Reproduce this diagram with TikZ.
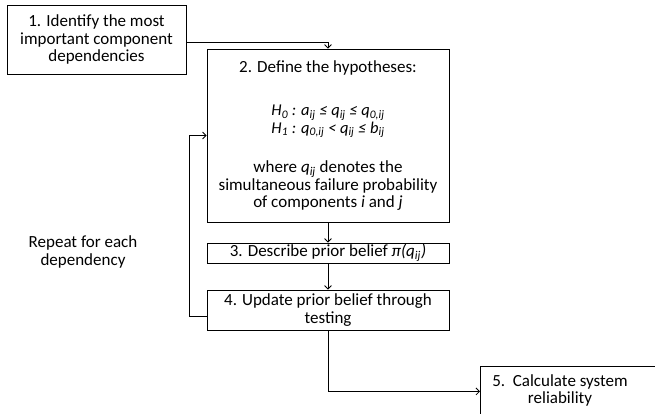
\documentclass[tikz,border=0pt]{standalone}
\usepackage{fontspec}
\setmainfont{Carlito}
\usetikzlibrary{arrows.meta}
\newcommand{\mathline}{\fontsize{16.5}{17}\selectfont\itshape}
\begin{document}
\begin{tikzpicture}[x=1pt,y=-1pt,
 txt/.style={align=center, font=\fontsize{17}{17.5}\selectfont, inner sep=0pt},
 box/.style={txt, draw, line width=0.8pt, rectangle},
 conn/.style={draw, line width=0.8pt, -{Straight Barb[length=3.5pt,width=7pt]}}]
\clip (0,0) rectangle (655,413);
\node[box, minimum width=179pt, minimum height=69pt] (b1) at (96.5,39.5)
  {1. Identify the most\\important component\\dependencies};
\node[box, minimum width=242pt, minimum height=173pt] (b2) at (328,135.5)
  {2. Define the hypotheses:\\[26pt]
   {\mathline H\textsubscript{0} : a\textsubscript{ij} ≤ q\textsubscript{ij} ≤ q\textsubscript{0,ij}}\\
   {\mathline H\textsubscript{1} : q\textsubscript{0,ij} < q\textsubscript{ij} ≤ b\textsubscript{ij}}\\[22pt]
   where \textit{q\textsubscript{ij}} denotes the\\
   simultaneous failure probability\\
   of components \textit{i} and \textit{j}};
\node[box, minimum width=242pt, minimum height=20pt] (b3) at (328,253)
  {3. Describe prior belief \textit{π(q\textsubscript{ij})}};
\node[box, minimum width=242pt, minimum height=40pt] (b4) at (328,310)
  {4. Update prior belief through\\testing};
\node[box, minimum width=190pt, minimum height=64pt, anchor=north west] (b5) at (480,366) {};
\node[txt, anchor=north] (b5t) at (560,374) {5.\ \ Calculate system\\reliability};
\node[txt] (rep) at (83,252) {Repeat for each\\dependency};
\draw[conn] (b1.east) ++(0,2.5) -| (b2.north);
\draw[conn] (b2.south) -- (b3.north);
\draw[conn] (b3.south) -- (b4.north);
\draw[conn] ([yshift=-6pt]b4.west) -- ++(-17,0) coordinate (fb) |- (b2.west);
\draw[conn] (b4.south) |- ([yshift=7pt]b5.west);
\end{tikzpicture}
\end{document}
